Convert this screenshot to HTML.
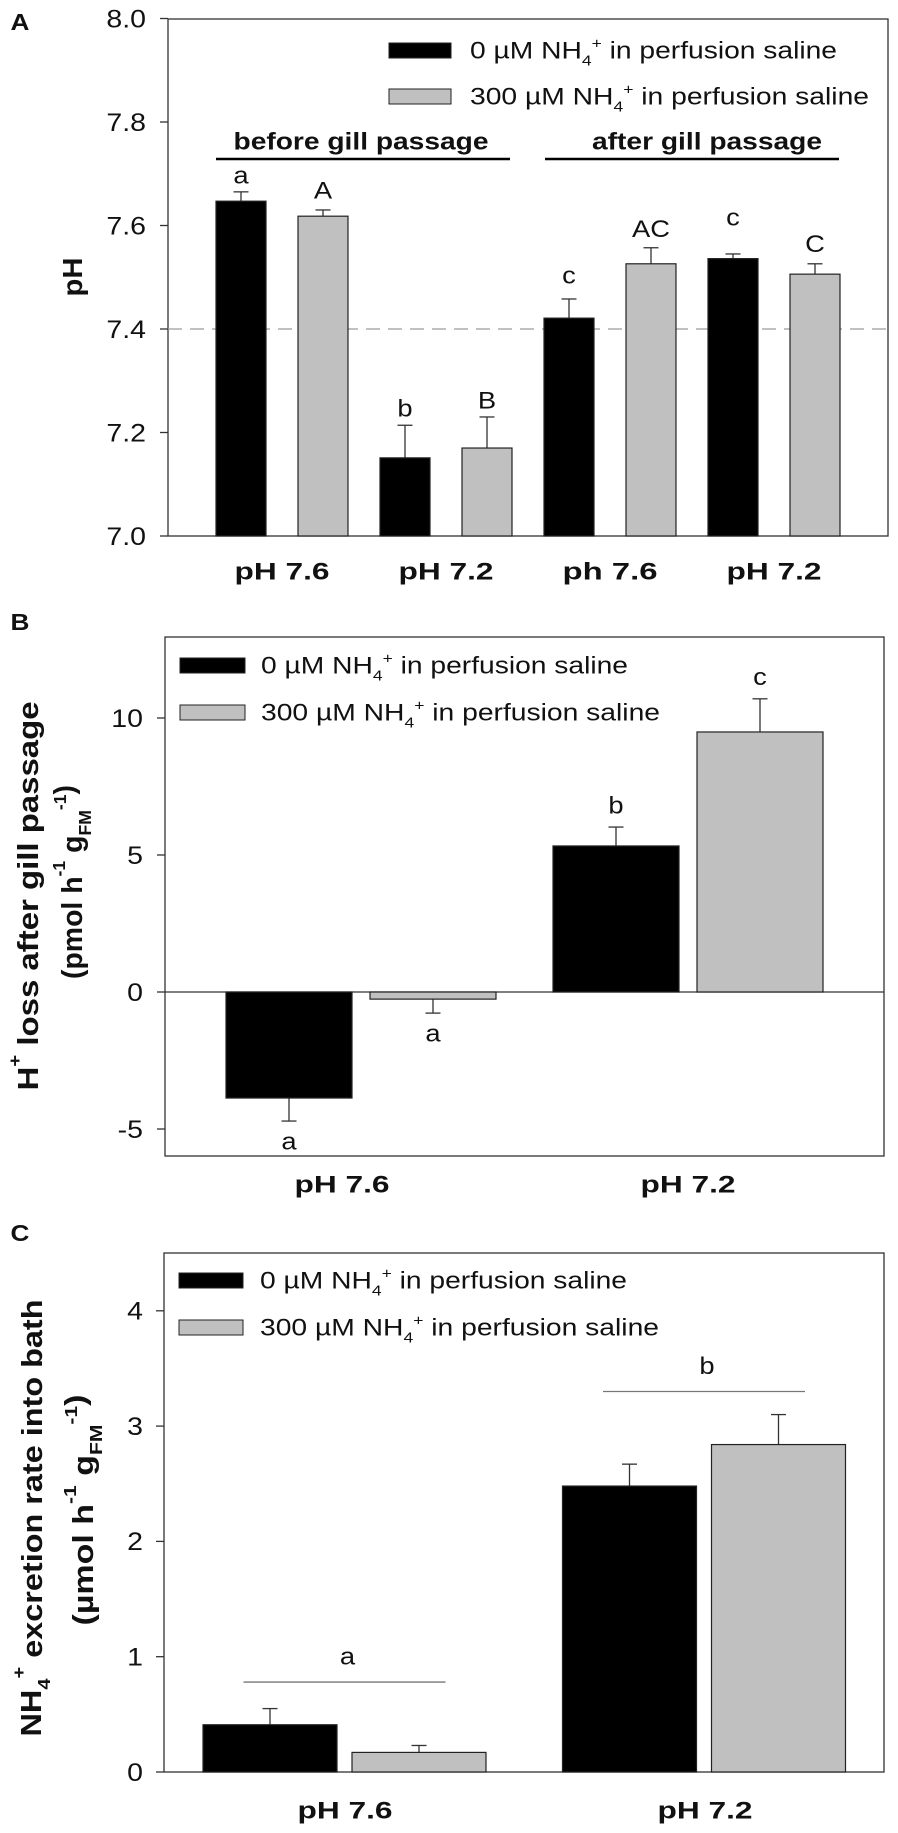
<!DOCTYPE html>
<html><head><meta charset="utf-8"><style>
html,body{margin:0;padding:0;background:#fff;}
svg{display:block;font-family:"Liberation Sans",Arial,sans-serif;}
</style></head><body>
<svg id="fig" width="898" height="1833" viewBox="0 0 898 1833" xmlns="http://www.w3.org/2000/svg"></svg>
<script>
// ---------- DATA ----------
// Panel A
const catsA = ["pH 7.6","pH 7.2","ph 7.6","pH 7.2"];
const seriesA = [7.647,7.618,7.151,7.170,7.421,7.526,7.536,7.506];
const errA = [0.018,0.012,0.063,0.060,0.037,0.031,0.009,0.020];
const lettersA = ["a","A","b","B","c","AC","c","C"];
const ticksA = ["7.0","7.2","7.4","7.6","7.8","8.0"];
const refLineA = [7.4];
// Panel B
const catsB = ["pH 7.6","pH 7.2"];
const black_B = [-3.87,5.33];
const gray_B = [-0.26,9.49];
const blackErrB = [0.84,0.69];
const grayErrB = [0.51,1.21];
const blackLetB = ["a","b"];
const grayLetB = ["a","c"];
const ticksB = ["-5","0","5","10"];
// Panel C
const catsC = ["pH 7.6","pH 7.2"];
const black_C = [0.41,2.48];
const gray_C = [0.17,2.84];
const blackErrC = [0.14,0.19];
const grayErrC = [0.06,0.26];
const sigLineC = [0.78,3.30];
const sigLetC = ["a","b"];
const ticksC = ["0","1","2","3","4"];

// ---------- HELPERS ----------
const NS="http://www.w3.org/2000/svg";
const svg=document.getElementById('fig');
const K=1.14; // horizontal stretch of glyphs
function mk(tag,attrs){const e=document.createElementNS(NS,tag);for(const k in attrs)e.setAttribute(k,attrs[k]);svg.appendChild(e);return e;}
function txt(s,x,cy,fs,opts){
  opts=opts||{};
  const t=document.createElementNS(NS,'text');
  const rot=opts.rot||0;
  const base=fs*0.35;
  t.setAttribute('x',0);t.setAttribute('y',base);
  t.setAttribute('font-size',fs);
  t.setAttribute('text-anchor',opts.anchor||'middle');
  if(opts.bold)t.setAttribute('font-weight','bold');
  t.setAttribute('fill','#111');
  let sx;
  if(rot){sx=opts.sx||1;t.setAttribute('transform',`translate(${x},${cy}) rotate(${rot}) scale(${sx},1)`);}
  else {sx=opts.sx||K;t.setAttribute('transform',`translate(${x},${cy}) scale(${sx},1)`);}
  if(opts.len){t.setAttribute('textLength',opts.len/sx);t.setAttribute('lengthAdjust','spacingAndGlyphs');}
  if(Array.isArray(s)){
    s.forEach(p=>{const ts=document.createElementNS(NS,'tspan');
      if(p.sub){ts.setAttribute('font-size',fs*0.62);ts.setAttribute('dy',fs*0.3);}
      if(p.sup){ts.setAttribute('font-size',fs*0.62);ts.setAttribute('dy',p.dy);}
      if(p.back){ts.setAttribute('dy',p.back);ts.setAttribute('font-size',fs);}
      ts.textContent=p.t;t.appendChild(ts);});
  } else t.textContent=s;
  svg.appendChild(t);return t;
}
function line(x1,y1,x2,y2,st,w,dash){const l=mk('line',{x1,y1,x2,y2,stroke:st||'#333','stroke-width':w||1.3});if(dash)l.setAttribute('stroke-dasharray',dash);return l;}
function legendText(prefix,fs){
  return [{t:prefix+" NH"},{t:"4",sub:1},{t:"+",sup:1,dy:-fs*0.72},{t:" in perfusion saline",back:fs*0.42}];
}

// ================= PANEL A =================
const yA=v=>536-(v-7.0)*517.5;
const xA=i=>241+82*i;
let e;
e=txt("A",20,22,23,{bold:1});

e=mk('rect',{x:168,y:19,width:720,height:517,fill:'none',stroke:'#333','stroke-width':1.3});

ticksA.forEach(s=>{const v=parseFloat(s);
  e=line(160,yA(v),168,yA(v));
  
  e=txt(s,146,yA(v),25,{anchor:'end'});
  
});
refLineA.forEach(v=>{e=line(168,yA(v),888,yA(v),'#9a9a9a',1.2,'14 8');
  });
e=txt("pH",72,277,28,{bold:1,rot:-90,sx:1,len:39});

seriesA.forEach((v,i)=>{
  const x=xA(i), gray=i%2===1;
  const top=yA(v+errA[i]);
  e=line(x,yA(v),x,top);
  
  e=line(x-7.5,top,x+7.5,top);
  
  e=mk('rect',{x:x-25,y:yA(v),width:50,height:536-yA(v),fill:gray?'#c0c0c0':'#000',stroke:'#222','stroke-width':1.2});
  
});
const gapA=[17,20,17,17,24,19,37,20];
lettersA.forEach((s,i)=>{e=txt(s,xA(i),yA(seriesA[i]+errA[i])-gapA[i],24);
  });
e=txt("before gill passage",361,141,24,{bold:1,len:255});

e=line(216,159,510,159,'#000',2.5);

e=txt("after gill passage",707,141,24,{bold:1,len:230});

e=line(545,159,839,159,'#000',2.5);

catsA.forEach((s,i)=>{e=txt(s,(xA(2*i)+xA(2*i+1))/2,571,24,{bold:1,len:95});
  });
e=mk('rect',{x:389,y:43,width:62,height:15,fill:'#000',stroke:'#222'});

e=txt(legendText("0 µM",24),470,50,24,{anchor:'start',len:367});

e=mk('rect',{x:389,y:89,width:62,height:15,fill:'#c0c0c0',stroke:'#222'});

e=txt(legendText("300 µM",24),470,96,24,{anchor:'start',len:399});


// ================= PANEL B =================
const yB=v=>992-v*27.4;
const gcB=[361,688];
e=txt("B",20,622,23,{bold:1});

e=mk('rect',{x:165,y:637,width:719,height:519,fill:'none',stroke:'#333','stroke-width':1.3});

ticksB.forEach(s=>{const v=parseFloat(s);
  e=line(157,yB(v),165,yB(v));
  
  e=txt(s,143,yB(v),25,{anchor:'end'});
  
});
e=line(165,yB(0),884,yB(0));

function barsB(vals,errs,lets,off,fill,nm){
  vals.forEach((v,i)=>{
    const x=gcB[i]+off, dir=v<0?-1:1, end=yB(v+dir*errs[i]);
    e=line(x,yB(v),x,end);
    
    e=line(x-7.5,end,x+7.5,end);
    
    const y0=Math.min(yB(0),yB(v));
    e=mk('rect',{x:x-63,y:y0,width:126,height:Math.abs(yB(v)-yB(0)),fill:fill,stroke:'#222','stroke-width':1.2});
    
    e=txt(lets[i],x,end+(dir<0?20:-22),24);
    
  });
}
barsB(black_B,blackErrB,blackLetB,-72,'#000','bar-b-0uM');
barsB(gray_B,grayErrB,grayLetB,72,'#c0c0c0','bar-b-300uM');
const catXB=[342,688];
catsB.forEach((s,i)=>{e=txt(s,catXB[i],1184,24,{bold:1,len:95});
  });
e=txt([{t:"H"},{t:"+",sup:1,dy:-17},{t:" loss after gill passage",back:17}],28,896,29,{bold:1,rot:-90,sx:1,len:389});

e=txt([{t:"(pmol h"},{t:"-1",sup:1,dy:-17},{t:" g",back:17},{t:"FM",sub:1},{t:"-1",sup:1,dy:-25},{t:")",back:8}],72,882,29,{bold:1,rot:-90,sx:1,len:194});

e=mk('rect',{x:180,y:658,width:65,height:15,fill:'#000',stroke:'#222'});

e=txt(legendText("0 µM",24),261,665,24,{anchor:'start',len:367});

e=mk('rect',{x:180,y:705,width:65,height:15,fill:'#c0c0c0',stroke:'#222'});

e=txt(legendText("300 µM",24),261,712,24,{anchor:'start',len:399});


// ================= PANEL C =================
const yC=v=>1772-v*115.3;
const gcC=[344.5,704];
e=txt("C",20,1233,23,{bold:1});

e=mk('rect',{x:164,y:1253,width:720,height:519,fill:'none',stroke:'#333','stroke-width':1.3});

ticksC.forEach(s=>{const v=parseFloat(s);
  e=line(156,yC(v),164,yC(v));
  
  e=txt(s,143,yC(v),25,{anchor:'end'});
  
});
function barsC(vals,errs,off,fill,nm){
  vals.forEach((v,i)=>{
    const x=gcC[i]+off, end=yC(v+errs[i]);
    e=line(x,yC(v),x,end);
    
    e=line(x-7.5,end,x+7.5,end);
    
    e=mk('rect',{x:x-67,y:yC(v),width:134,height:yC(0)-yC(v),fill:fill,stroke:'#222','stroke-width':1.2});
    
  });
}
barsC(black_C,blackErrC,-74.5,'#000','bar-c-0uM');
barsC(gray_C,grayErrC,74.5,'#c0c0c0','bar-c-300uM');
sigLineC.forEach((v,i)=>{
  e=line(gcC[i]-101,yC(v),gcC[i]+101,yC(v),'#777',1.3);
  
  e=txt(sigLetC[i],gcC[i]+3,yC(v)-26,24);
  
});
const catXC=[345,705];
catsC.forEach((s,i)=>{e=txt(s,catXC[i],1810,24,{bold:1,len:95});
  });
e=txt([{t:"NH"},{t:"4",sub:1},{t:"+",sup:1,dy:-25},{t:" excretion rate into bath",back:17}],31,1518,29,{bold:1,rot:-90,sx:1,len:437});

e=txt([{t:"(µmol h"},{t:"-1",sup:1,dy:-17},{t:" g",back:17},{t:"FM",sub:1},{t:"-1",sup:1,dy:-25},{t:")",back:8}],83,1510,29,{bold:1,rot:-90,sx:1,len:231});

e=mk('rect',{x:179,y:1273,width:64,height:15,fill:'#000',stroke:'#222'});

e=txt(legendText("0 µM",24),260,1280,24,{anchor:'start',len:367});

e=mk('rect',{x:179,y:1320,width:64,height:15,fill:'#c0c0c0',stroke:'#222'});

e=txt(legendText("300 µM",24),260,1327,24,{anchor:'start',len:399});

</script>
</body></html>
